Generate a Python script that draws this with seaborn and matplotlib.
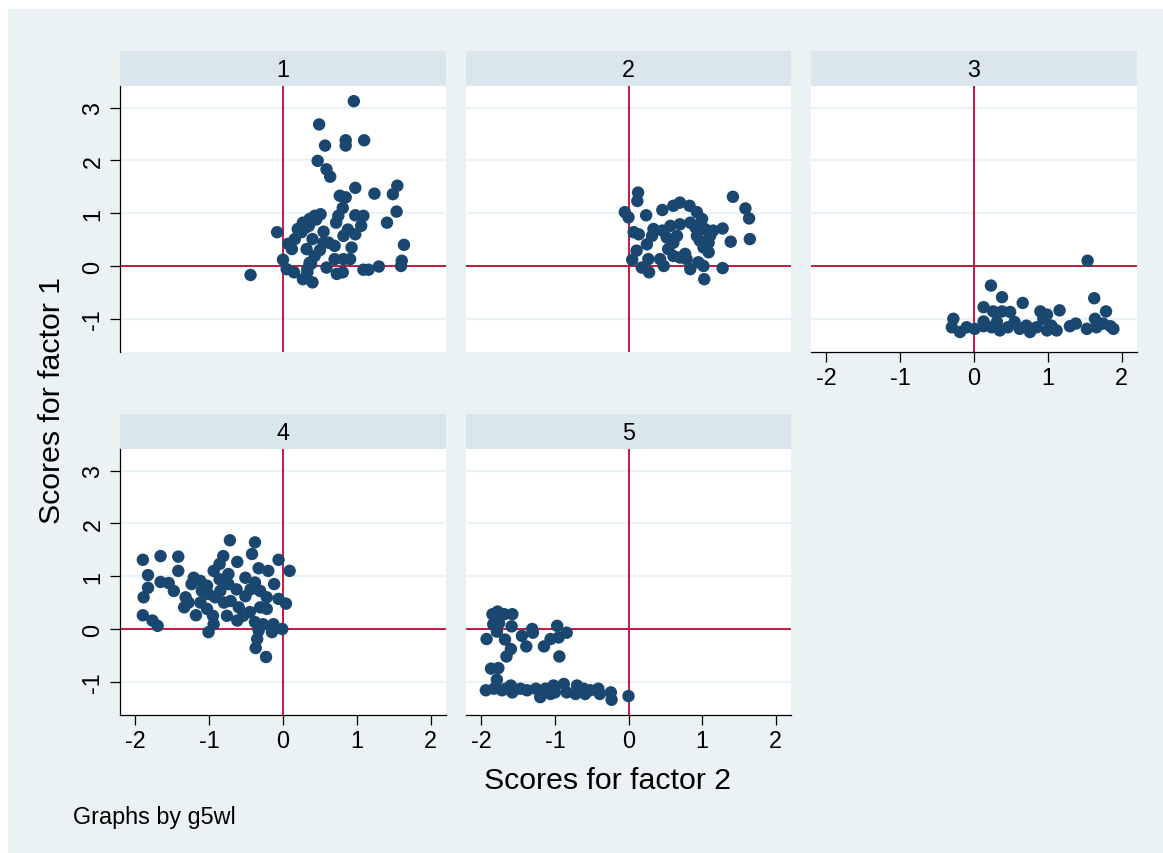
import numpy as np
import pandas as pd
import matplotlib
matplotlib.use("Agg")
import matplotlib.pyplot as plt
import seaborn as sns
from matplotlib.patches import Rectangle

# ---------------- data ----------------
g1_f2 = [0.96, 0.49, 0.85, 0.85, 1.10, 0.57, 0.47, 0.59, 0.64, 0.98, 1.24, 1.55, 1.49, 0.77,
         0.85, 0.81, 1.54, 1.41, 1.64, 1.61, 1.60, 1.30, 1.09, 1.16, -0.08, -0.44, 0.00, 0.05,
         0.15, 0.27, 0.40, 0.33, 0.36, 0.43, 0.59, 0.73, 0.81, 0.70, 0.82, 0.91, 0.93, 0.82,
         0.88, 0.98, 1.06, 1.09, 0.98, 0.75, 0.72, 0.70, 0.55, 0.55, 0.62, 0.40, 0.32, 0.07,
         0.12, 0.16, 0.25, 0.27, 0.36, 0.43, 0.51, 0.35, 0.38, 0.33, 0.45, 0.30, 0.20, 0.50]
g1_f1 = [3.12, 2.68, 2.38, 2.28, 2.38, 2.28, 1.99, 1.83, 1.69, 1.48, 1.37, 1.52, 1.36, 1.33,
         1.30, 1.10, 1.03, 0.82, 0.40, 0.10, 0.00, -0.01, -0.07, -0.07, 0.64, -0.17, 0.12, -0.06,
         -0.12, -0.25, -0.31, -0.06, 0.06, 0.19, -0.03, -0.15, -0.12, 0.13, 0.13, 0.13, 0.35, 0.57,
         0.69, 0.60, 0.76, 0.95, 0.96, 0.95, 0.82, 0.38, 0.65, 0.44, 0.44, 0.51, 0.32, 0.42,
         0.32, 0.51, 0.64, 0.82, 0.89, 0.95, 0.98, 0.76, 0.04, -0.12, 0.88, 0.72, 0.70, 0.30]

g2_f2 = [0.13, 0.12, -0.05, 0.00, 0.24, 0.46, 0.61, 0.70, 0.83, 0.93, 1.00, 1.42, 1.59, 1.64,
         1.65, 1.39, 1.28, 1.15, 1.09, 1.28, 1.03, 1.02, 0.95, 0.84, 0.79, 0.77, 0.70, 0.61,
         0.54, 0.48, 0.43, 0.27, 0.18, 0.28, 0.11, 0.05, 0.07, 0.14, 0.25, 0.32, 0.34, 0.46,
         0.57, 0.70, 0.52, 0.66, 0.61, 0.93, 0.97, 1.04, 1.09, 1.11, 0.91, 0.84, 1.02]
g2_f1 = [1.39, 1.23, 1.02, 0.92, 0.96, 1.06, 1.14, 1.20, 1.14, 1.02, 0.89, 1.31, 1.09, 0.90,
         0.51, 0.46, 0.71, 0.67, 0.26, -0.04, -0.25, 0.00, 0.07, -0.06, 0.13, 0.23, 0.16, 0.19,
         0.32, 0.00, 0.13, 0.13, -0.03, -0.12, 0.29, 0.12, 0.64, 0.60, 0.41, 0.57, 0.70, 0.67,
         0.76, 0.79, 0.54, 0.57, 0.44, 0.57, 0.48, 0.70, 0.44, 0.57, 0.73, 0.82, 0.35]

g3_f2 = [1.54, 0.23, 0.38, 0.66, 0.13, 0.26, 0.38, 0.49, 0.90, 0.99, 1.16, 1.63, 1.79, 1.64,
         -0.28, -0.30, -0.19, -0.10, 0.01, 0.13, 0.13, 0.24, 0.31, 0.35, 0.46, 0.55, 0.62,
         0.71, 0.76, 0.85, 0.94, 0.99, 1.05, 1.12, 1.30, 1.38, 1.53, 1.66, 1.75, 1.89, 1.85]
g3_f1 = [0.10, -0.37, -0.59, -0.70, -0.78, -0.86, -0.86, -0.87, -0.86, -0.92, -0.84, -0.61,
         -0.86, -1.00, -1.00, -1.16, -1.25, -1.16, -1.19, -1.14, -1.05, -1.16, -1.06, -1.22,
         -1.16, -1.06, -1.19, -1.13, -1.25, -1.16, -1.00, -1.22, -1.13, -1.22, -1.14, -1.09,
         -1.19, -1.16, -1.09, -1.19, -1.14]

g4_f2 = [-0.72, -0.38, -0.42, -0.81, -1.66, -1.42, -1.90, -0.06, -0.62, -0.86, -0.33, -0.20,
         0.09, -1.42, -0.94, -1.83, -0.74, -1.21, -0.51, -1.12, -1.66, -1.55, -1.24, -0.86,
         -0.38, -0.12, -1.83, -1.03, -0.74, -0.63, -1.48, -1.10, -1.01, -0.85, -0.31, -1.89,
         -1.32, -0.92, -0.51, -0.44, -0.22, -0.06, 0.04, -1.28, -1.12, -0.80, -0.71, -1.34,
         -1.03, -0.60, -0.31, -0.22, -1.90, -1.18, -0.95, -0.76, -0.62, -1.77, -1.70, -0.94,
         -1.01, -0.38, -0.27, -0.13, -0.01, -0.15, -0.33, -0.35, -0.37, -0.23, -0.45, -0.54]
g4_f1 = [1.68, 1.64, 1.42, 1.38, 1.38, 1.37, 1.31, 1.31, 1.27, 1.23, 1.15, 1.10, 1.10, 1.10,
         1.10, 1.02, 1.04, 0.97, 0.97, 0.91, 0.89, 0.87, 0.85, 0.94, 0.88, 0.85, 0.78, 0.82,
         0.85, 0.75, 0.72, 0.72, 0.66, 0.72, 0.72, 0.60, 0.60, 0.60, 0.62, 0.75, 0.60, 0.57,
         0.48, 0.50, 0.50, 0.50, 0.53, 0.41, 0.38, 0.41, 0.41, 0.38, 0.26, 0.26, 0.25, 0.25,
         0.16, 0.16, 0.06, 0.09, -0.06, 0.13, 0.09, 0.09, 0.00, -0.06, -0.03, -0.19, -0.36,
         -0.53, 0.32, 0.25]

g5_f2 = [-1.85, -1.78, -1.69, -1.58, -1.84, -1.76, -1.79, -1.59, -1.93, -1.68, -1.45, -1.31,
         -1.30, -1.39, -1.60, -1.66, -1.15, -1.06, -0.97, -0.95, -0.84, -0.94, -1.87, -1.77,
         -1.79, -1.94, -1.83, -1.72, -1.60, -1.58, -1.47, -1.38, -1.26, -1.20, -1.13, -1.02,
         -1.00, -0.88, -0.84, -0.70, -0.72, -0.61, -0.59, -0.52, -0.41, -0.39, -0.24, -0.23,
         0.00, -1.67, -1.06]
g5_f1 = [0.28, 0.33, 0.28, 0.28, 0.09, 0.11, -0.05, 0.05, -0.19, -0.20, -0.13, 0.00, -0.07,
         -0.33, -0.38, -0.52, -0.33, -0.19, 0.06, -0.16, -0.07, -0.52, -0.75, -0.74, -0.96,
         -1.16, -1.13, -1.16, -1.07, -1.20, -1.13, -1.16, -1.13, -1.29, -1.13, -1.07, -1.20,
         -1.04, -1.20, -1.07, -1.23, -1.13, -1.23, -1.16, -1.13, -1.23, -1.20, -1.34, -1.27,
         -1.13, -1.23]

groups = [1, 2, 3, 4, 5]
x_ticks = [-2, -1, 0, 1, 2]
y_ticks = [-1, 0, 1, 2, 3]
x_title = "Scores for factor 2"
y_title = "Scores for factor 1"
note = "Graphs by g5wl"

frames = []
for g, xs, ys in zip(groups, [g1_f2, g2_f2, g3_f2, g4_f2, g5_f2],
                     [g1_f1, g2_f1, g3_f1, g4_f1, g5_f1]):
    frames.append(pd.DataFrame({"g5wl": g, "f2": xs, "f1": ys}))
df = pd.concat(frames, ignore_index=True)

# ---------------- style ----------------
sns.set_theme(style="white")
plt.rcParams['font.family'] = ['Liberation Sans', 'DejaVu Sans']
plt.rcParams['text.color'] = 'black'
plt.rcParams['xtick.color'] = 'black'
plt.rcParams['ytick.color'] = 'black'
plt.rcParams['xtick.labelcolor'] = 'black'
plt.rcParams['ytick.labelcolor'] = 'black'
plt.rcParams['axes.labelcolor'] = 'black'

BG = "#eaf2f3"
STRIP = "#d9e6eb"
NAVY = "#1a476f"
RED = "#c10534"

W, H = 1163, 854
fig = plt.figure(figsize=(W / 100, H / 100), dpi=100, facecolor="white")
fig.patches.append(Rectangle((8 / W, 0), (W - 8) / W, (H - 10) / H,
                             transform=fig.transFigure, facecolor=BG,
                             edgecolor="none", zorder=-10))


def rect(l, t, r, b):
    return [l / W, 1 - b / H, (r - l) / W, (b - t) / H]


cols = [(120, 446), (466, 791), (811, 1137)]
rows = [((52, 86.7), (86.7, 353)), ((415, 449.7), (449.7, 716))]
layout = {1: (0, 0), 2: (0, 1), 3: (0, 2), 4: (1, 0), 5: (1, 1)}
bottom_axis = {3, 4, 5}

TICK_FS = 16.8

for g in groups:
    r, c = layout[g]
    (ht, hb), (at, ab) = rows[r]
    l, rr = cols[c]
    # strip header
    hax = fig.add_axes(rect(l, ht, rr, hb))
    hax.set_facecolor(STRIP)
    hax.set_xticks([]); hax.set_yticks([])
    for s in hax.spines.values():
        s.set_visible(False)
    hax.text(0.5, 0.47, str(g), ha="center", va="center", fontsize=TICK_FS,
             transform=hax.transAxes, color="black")

    ax = fig.add_axes(rect(l, at, rr, ab))
    ax.set_facecolor("white")
    sub = df[df["g5wl"] == g]
    ax.axvline(0, color=RED, lw=1.3, zorder=2)
    ax.axhline(0, color=RED, lw=1.3, zorder=2)
    sns.scatterplot(data=sub, x="f2", y="f1", ax=ax, color=NAVY, s=80,
                    linewidth=0, edgecolor="none", zorder=3, legend=False)
    ax.set_xlim(-2.21, 2.21)
    ax.set_ylim(-1.628, 3.413)
    ax.set_xticks(x_ticks)
    ax.set_yticks(y_ticks)
    ax.set_xticklabels([str(v) for v in x_ticks])
    ax.set_yticklabels([str(v) for v in y_ticks], rotation=90, va="center")
    ax.set_xlabel("")
    ax.set_ylabel("")
    ax.set_axisbelow(True)
    ax.grid(axis="y", color=BG, lw=1.6)
    ax.grid(axis="x", visible=False)
    for s in ax.spines.values():
        s.set_visible(False)
        s.set_color("black")
        s.set_linewidth(0.9)
    show_left = (c == 0)
    show_bottom = g in bottom_axis
    ax.spines["left"].set_visible(show_left)
    ax.spines["bottom"].set_visible(show_bottom)
    ax.tick_params(axis="y", direction="out", length=7.2 if show_left else 0,
                   width=0.9, color="black", labelcolor="black", labelleft=show_left,
                   labelsize=TICK_FS, pad=4, left=show_left)
    ax.tick_params(axis="x", direction="out", length=7.2 if show_bottom else 0,
                   width=0.9, color="black", labelcolor="black", labelbottom=show_bottom,
                   labelsize=TICK_FS, pad=3, bottom=show_bottom)

fig.text(607 / W, 1 - 781 / H, x_title, ha="center", va="center", fontsize=21.8,
         color="black")
fig.text(52 / W, 1 - 401 / H, y_title, ha="center", va="center", fontsize=21.8,
         rotation=90, color="black")
fig.text(73 / W, 1 - 824 / H, note, ha="left", va="baseline", fontsize=16.8,
         color="black")

fig.savefig("out.png", dpi=100, facecolor=fig.get_facecolor())
